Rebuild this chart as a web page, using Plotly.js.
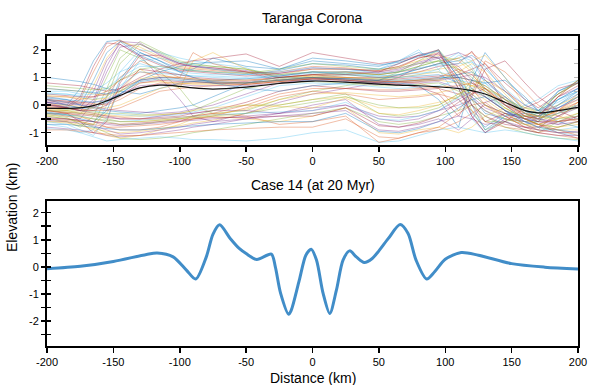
<!DOCTYPE html>
<html><head><meta charset="utf-8">
<script src="https://cdn.plot.ly/plotly-3.0.1.min.js"></script>
<style>html,body{margin:0;padding:0;background:#fff}</style>
</head><body><div id="chart" style="width:589px;height:385px"></div>
<script>
// ---- Top panel: Taranga Corona topographic profiles (km) ----
const distanceGrid = [-200,-185,-175,-165,-155,-145,-130,-115,-100,-90,-75,-50,-25,0,25,50,65,80,95,110,120,130,145,160,170,185,200];

const p01 = [0.2,0.0,0.6,1.6,2.3,2.35,1.9,1.6,1.3,1.25,1.2,1.1,1.25,1.5,1.45,1.3,1.5,1.8,1.95,1.0,0.3,-0.3,-0.5,-0.7,-0.6,0.2,0.5];
const p02 = [0.1,-0.1,0.2,1.2,2.1,2.35,2.0,1.7,1.35,1.3,1.25,1.15,1.2,1.4,1.35,1.2,1.35,1.7,1.9,1.3,0.6,0.0,-0.4,-0.8,-0.9,-0.2,0.4];
const p03 = [-0.1,-0.2,-0.1,0.7,1.7,2.3,2.1,1.75,1.4,1.35,1.3,1.2,1.1,1.3,1.3,1.25,1.4,1.6,1.8,1.6,1.2,0.4,-0.1,-0.5,-0.7,-0.5,0.1];
const p04 = [-0.3,-0.4,-0.5,0.1,1.2,2.1,2.2,1.85,1.5,1.4,1.35,1.25,1.05,1.2,1.2,1.15,1.25,1.5,1.7,1.9,1.7,0.9,0.2,-0.3,-0.5,-0.7,-0.4];
const p05 = [-0.5,-0.6,-0.8,-0.4,0.6,1.7,2.3,1.95,1.6,1.5,1.4,1.3,1.0,1.1,1.15,1.1,1.2,1.4,1.6,0.8,-0.2,-0.9,-0.6,-0.9,-1.0,-0.6,-0.3];
const p06 = [-0.7,-0.8,-1.0,-0.9,0.0,1.2,2.0,1.9,1.7,1.6,1.5,1.35,0.95,1.0,1.1,1.05,1.1,1.3,1.5,1.9,1.4,0.6,-0.2,-0.7,-0.9,-0.9,-0.8];
const p07 = [-0.2,-0.3,-0.6,-1.0,-0.6,0.8,1.8,1.8,1.5,1.4,1.35,1.2,0.9,0.95,1.0,1.0,1.05,1.2,1.4,1.5,1.95,1.2,0.0,-0.5,-0.7,-1.0,-1.2];
const p08 = [0.3,0.2,0.0,0.9,1.9,2.3,1.8,1.5,1.2,1.3,1.7,1.4,1.3,1.6,1.5,1.4,1.6,1.9,1.7,0.6,-0.3,-0.8,-0.3,-0.4,-0.5,0.5,0.8];
const p09 = [0.0,-0.1,-0.2,-0.1,0.3,1.0,1.6,1.3,1.0,1.9,1.5,1.2,1.0,1.1,1.2,1.1,1.2,1.3,1.5,1.7,1.9,1.5,0.6,-0.2,-0.5,-0.2,0.3];
const p10 = [-0.4,-0.5,-0.6,-0.7,-0.3,0.5,1.3,0.9,0.6,1.6,1.9,1.3,1.0,1.05,1.1,1.0,1.1,1.2,1.3,1.4,1.6,1.8,1.0,0.0,-0.3,-0.4,0.0];
const p11 = [0.1,0.0,-0.1,0.5,1.6,2.2,1.8,1.0,0.2,-0.4,-0.6,-0.3,0.1,0.4,0.6,0.8,1.0,1.4,1.9,0.8,-0.4,-1.0,-0.5,-0.6,-0.5,0.3,0.6];
const p12 = [-0.2,-0.2,-0.3,0.0,1.0,2.0,1.7,1.2,0.6,0.0,-0.3,-0.2,0.2,0.5,0.7,0.9,1.2,1.6,2.0,1.2,0.2,-0.6,-0.6,-0.4,-0.3,0.4,0.9];
const p13 = [0.5,0.5,0.4,0.5,0.8,1.2,1.5,1.3,1.1,1.05,1.05,1.0,1.1,1.2,1.15,1.05,1.1,1.15,1.2,1.0,0.6,0.3,0.0,-0.2,-0.3,0.2,0.6];
const p14 = [0.8,0.75,0.7,0.6,0.5,0.6,0.9,1.0,1.0,0.95,0.9,0.85,1.0,1.1,1.0,0.9,0.95,1.0,1.05,1.1,1.3,1.5,0.8,0.2,-0.1,0.4,0.8];
const p15 = [1.0,0.9,0.85,0.75,0.6,0.5,0.4,0.6,0.8,0.85,0.9,0.95,1.05,1.2,1.1,1.0,1.0,1.05,1.1,0.8,0.4,0.0,-0.3,-0.5,-0.6,0.0,0.5];
const p16 = [0.3,0.3,0.2,0.3,0.5,0.9,1.2,1.1,0.95,0.9,0.85,0.8,0.9,1.0,0.95,0.85,0.85,0.9,0.95,1.0,0.9,0.7,0.2,-0.4,-0.5,-0.3,0.1];
const p17 = [0.6,0.55,0.5,0.4,0.35,0.5,0.8,0.85,0.8,0.75,0.75,0.75,0.85,0.95,0.9,0.8,0.8,0.85,0.9,1.2,1.5,1.2,0.4,-0.3,-0.5,-0.2,0.2];
const p18 = [0.2,0.15,0.1,0.1,0.2,0.4,0.7,0.75,0.75,0.7,0.7,0.7,0.8,0.9,0.85,0.75,0.75,0.8,0.85,0.6,0.3,-0.1,-0.4,-0.6,-0.7,-0.4,-0.1];
const p19 = [-0.1,-0.15,-0.2,-0.25,-0.3,-0.3,-0.35,-0.35,-0.3,-0.2,0.1,0.6,0.8,0.85,0.8,0.7,0.7,0.75,0.8,0.5,0.2,-0.2,-0.5,-0.6,-0.6,-0.3,-0.1];
const p20 = [0.0,-0.05,-0.1,-0.2,-0.3,-0.35,-0.4,-0.4,-0.35,-0.25,-0.1,0.3,0.7,0.8,0.75,0.65,0.6,0.65,0.7,0.9,0.8,0.4,-0.2,-0.5,-0.5,-0.1,0.3];
const p21 = [-0.3,-0.3,-0.35,-0.4,-0.45,-0.5,-0.5,-0.45,-0.4,-0.3,-0.2,0.1,0.5,0.7,0.6,0.5,0.5,0.55,0.6,0.4,0.0,-0.4,-0.7,-0.8,-0.8,-0.6,-0.4];
const p22 = [0.2,0.1,0.0,-0.1,-0.2,-0.25,-0.3,-0.2,-0.1,0.0,0.3,0.8,1.0,1.0,0.9,0.8,0.85,0.9,0.95,1.1,1.2,0.9,0.3,-0.2,-0.3,0.0,0.4];
const p23 = [-0.5,-0.55,-0.6,-0.7,-0.8,-0.8,-0.75,-0.7,-0.6,-0.5,-0.4,-0.1,0.3,0.5,0.4,0.2,0.25,0.3,0.4,0.2,-0.2,-0.6,-0.8,-0.9,-1.0,-0.8,-0.6];
const p24 = [-0.6,-0.65,-0.75,-0.85,-0.95,-1.0,-0.95,-0.85,-0.75,-0.65,-0.55,-0.3,0.0,0.2,0.3,-0.1,-0.1,-0.05,0.1,0.3,0.5,0.2,-0.3,-0.7,-0.8,-0.9,-0.9];
const p25 = [-0.8,-0.85,-0.9,-1.0,-1.1,-1.15,-1.1,-1.0,-0.9,-0.8,-0.7,-0.5,-0.3,-0.1,0.0,-0.4,-0.45,-0.4,-0.2,0.0,0.2,-0.2,-0.6,-0.9,-1.0,-1.1,-1.1];
const p26 = [-0.4,-0.5,-0.6,-0.8,-1.0,-1.2,-1.25,-1.2,-1.1,-1.0,-0.9,-0.7,-0.5,-0.3,-0.1,-0.6,-0.7,-0.6,-0.4,-0.2,0.0,-0.4,-0.8,-1.0,-1.1,-1.2,-1.25];
const p27 = [-0.85,-0.9,-1.0,-1.15,-1.3,-1.25,-1.2,-1.15,-1.2,-1.25,-1.25,-1.3,-1.2,-1.0,-0.9,-1.35,-1.3,-1.1,-0.9,-0.8,-0.9,-1.0,-0.9,-1.0,-1.1,-1.2,-1.3];
const p28 = [0.4,0.35,0.3,0.3,0.4,0.6,1.0,1.3,1.5,1.6,1.7,1.85,1.4,1.9,1.7,1.5,1.6,1.8,1.7,1.2,0.8,0.5,0.0,-0.3,-0.4,0.3,0.9];
const p29 = [0.6,0.55,0.5,0.45,0.4,0.5,0.9,1.2,1.4,1.5,1.55,1.6,1.3,1.7,1.6,1.45,1.55,1.75,2.0,1.0,0.0,-0.9,-0.4,-0.3,-0.2,0.5,0.85];
const p30 = [-0.2,-0.3,-0.4,-0.6,-0.8,-0.9,-0.9,-0.8,-0.6,-0.4,-0.3,-0.4,-0.7,-0.6,-0.4,-1.35,-1.2,-1.0,-0.9,-0.6,-0.3,0.0,-0.3,-0.7,-0.9,-1.0,-1.0];
const p31 = [-0.6,-0.6,-0.7,-0.9,-1.1,-1.2,-1.1,-0.9,-0.7,-0.5,-0.4,-0.5,-0.6,-0.4,-0.1,-1.0,-1.05,-0.9,-0.8,-1.0,-0.8,-0.4,-0.1,-0.5,-0.7,-0.8,-0.7];
const p32 = [0.0,-0.1,-0.2,-0.3,-0.4,-0.5,-0.5,-0.4,-0.3,-0.3,-0.2,-0.2,-0.3,0.0,0.2,-0.7,-0.8,-0.7,-0.5,-0.9,-0.5,0.1,0.3,-0.3,-0.5,-0.6,-0.5];
const p33 = [-0.3,-0.35,-0.4,-0.5,-0.6,-0.7,-0.7,-0.6,-0.5,-0.4,-0.2,0.0,0.0,0.2,0.4,-0.3,-0.4,-0.3,-0.1,0.3,0.9,0.7,0.2,-0.2,-0.4,-0.5,-0.4];
const p34 = [0.4,0.4,0.3,0.2,0.3,0.7,1.2,1.15,1.1,1.05,1.0,0.95,1.05,1.15,1.2,1.3,1.6,2.0,1.3,0.2,-0.5,-1.0,-0.4,0.0,0.2,0.7,0.9];
const p35 = [-0.1,-0.1,-0.2,-0.2,0.0,0.6,1.3,1.2,1.1,1.0,0.95,0.9,1.0,1.1,1.1,1.2,1.5,1.8,2.0,0.6,-0.4,-1.0,-0.6,-0.1,0.1,0.6,0.8];
const p36 = [0.1,0.0,-0.1,-0.1,0.1,0.4,0.9,1.0,0.95,0.9,0.85,0.8,0.9,1.0,0.95,0.85,0.8,0.7,0.2,-0.8,0.9,1.9,1.0,0.2,-0.2,-0.6,-0.8];
const p37 = [0.2,0.15,0.1,0.05,0.0,0.2,0.6,0.8,0.8,0.8,0.8,0.8,0.9,1.0,0.95,0.9,0.85,0.8,0.6,-0.2,0.4,1.6,1.2,0.5,0.0,-0.4,-0.6];
const p38 = [0.0,0.0,-0.05,-0.1,-0.1,0.0,0.3,0.6,0.75,0.8,0.8,0.8,0.9,1.0,1.0,0.95,0.9,0.9,0.9,0.8,0.7,0.6,0.3,-0.3,-0.6,0.3,0.9];
const p39 = [-0.45,-0.5,-0.55,-0.6,-0.7,-0.75,-0.7,-0.65,-0.6,-0.55,-0.5,-0.4,-0.3,-0.2,0.0,-0.5,-0.6,-0.5,-0.2,0.2,0.5,0.3,-0.2,-0.5,-0.6,-0.7,-0.6];
const p40 = [-0.2,-0.25,-0.3,-0.35,-0.5,-0.6,-0.6,-0.55,-0.5,-0.45,-0.4,-0.3,-0.1,0.1,0.3,0.0,-0.1,-0.1,0.0,0.4,0.6,0.3,-0.2,-0.4,-0.4,-0.2,0.0];
const p41 = [-0.3,-0.35,-0.4,-0.5,-0.55,-0.6,-0.55,-0.5,-0.45,-0.4,-0.35,-0.3,-0.25,-0.2,0.1,-0.5,-0.55,-0.4,-0.2,0.3,0.6,0.8,0.3,-0.3,-0.5,-0.3,0.0];
const p42 = [-0.5,-0.5,-0.55,-0.6,-0.65,-0.7,-0.65,-0.6,-0.55,-0.5,-0.45,-0.45,-0.4,-0.4,-0.1,-0.75,-0.8,-0.65,-0.4,0.1,0.4,0.6,0.1,-0.4,-0.6,-0.6,-0.5];
const p43 = [-0.7,-0.7,-0.75,-0.8,-0.85,-0.9,-0.9,-0.85,-0.8,-0.75,-0.7,-0.65,-0.6,-0.6,-0.3,-0.95,-1.0,-0.85,-0.6,-0.1,0.2,0.3,-0.2,-0.6,-0.8,-0.9,-1.0];
const p44 = [-0.9,-0.9,-0.95,-1.0,-1.05,-1.1,-1.1,-1.05,-1.0,-0.95,-0.9,-0.85,-0.8,-0.8,-0.5,-1.15,-1.2,-1.0,-0.8,-0.3,0.0,0.1,-0.4,-0.8,-1.0,-1.1,-1.2];
const p45 = [-0.15,-0.2,-0.25,-0.3,-0.35,-0.4,-0.4,-0.35,-0.3,-0.2,-0.1,0.0,-0.05,-0.1,0.25,-0.3,-0.35,-0.2,0.0,0.4,0.7,0.9,0.5,-0.1,-0.3,0.0,0.3];
const p46 = [0.05,-0.1,-0.2,0.2,1.4,2.3,2.25,1.8,1.45,1.4,1.3,1.2,1.15,1.35,1.3,1.2,1.3,1.55,1.75,1.4,0.9,0.3,-0.2,-0.6,-0.8,-0.4,0.0];
const p47 = [-0.35,-0.45,-0.7,-0.7,0.3,1.5,2.2,1.9,1.55,1.45,1.4,1.3,1.1,1.2,1.2,1.1,1.2,1.4,1.6,1.7,1.3,0.5,-0.1,-0.5,-0.7,-0.8,-0.6];
const p48 = [-0.6,-0.7,-0.9,-1.1,-0.5,0.6,1.6,1.7,1.55,1.45,1.3,1.15,0.9,0.9,0.95,0.95,1.0,1.1,1.3,1.8,1.6,0.8,0.0,-0.6,-0.8,-1.0,-1.1];
const p49 = [0.0,-0.05,0.3,1.4,2.25,2.2,1.75,1.45,1.25,1.2,1.15,1.05,1.15,1.3,1.3,1.25,1.4,1.7,1.85,0.9,0.0,-0.6,-0.3,-0.5,-0.4,0.3,0.7];
const p50 = [-0.25,-0.35,-0.5,-0.6,-0.2,0.9,1.9,1.6,1.2,1.0,0.8,0.6,0.5,0.7,0.8,0.9,1.1,1.3,1.5,1.6,1.8,1.4,0.5,-0.2,-0.4,-0.1,0.3];
const p51 = [-0.2,-0.25,-0.3,-0.35,-0.4,-0.45,-0.5,-0.5,-0.45,-0.4,-0.3,0.0,0.4,0.6,0.6,0.55,0.55,0.6,0.65,0.7,0.8,0.6,0.0,-0.4,-0.5,-0.2,0.1];
const p52 = [-0.35,-0.4,-0.45,-0.5,-0.55,-0.6,-0.6,-0.55,-0.5,-0.45,-0.35,-0.15,0.2,0.4,0.45,0.35,0.3,0.35,0.45,0.6,0.4,0.0,-0.5,-0.7,-0.7,-0.5,-0.3];
const p53 = [0.1,0.05,0.0,-0.05,-0.15,-0.2,-0.25,-0.3,-0.25,-0.15,0.0,0.4,0.8,0.95,0.9,0.8,0.8,0.85,0.9,1.0,1.1,1.0,0.5,0.0,-0.2,-0.1,0.2];
const p54 = [0.7,0.65,0.6,0.55,0.6,0.9,1.3,1.4,1.3,1.25,1.2,1.15,1.3,1.5,1.4,1.3,1.35,1.5,1.6,1.3,1.0,0.6,0.2,-0.1,-0.2,0.4,0.8];
const p55 = [0.45,0.4,0.35,0.4,0.6,1.0,1.4,1.4,1.2,1.15,1.1,1.1,1.2,1.35,1.3,1.15,1.2,1.35,1.45,1.5,1.55,1.3,0.6,0.0,-0.2,0.1,0.5];
const p56 = [0.15,0.1,0.05,0.0,0.05,0.3,0.8,0.9,0.85,0.85,0.8,0.75,0.85,0.95,0.9,0.8,0.75,0.65,0.4,-0.4,0.3,1.3,1.6,0.8,0.3,-0.2,-0.5];
const p57 = [0.25,0.2,0.15,0.1,0.15,0.4,0.85,0.95,0.9,0.85,0.8,0.8,0.9,1.0,0.95,0.9,0.9,0.95,1.0,1.0,0.9,0.8,0.9,0.3,-0.2,0.2,0.6];
const p58 = [-0.05,-0.1,-0.15,-0.2,-0.2,-0.1,0.2,0.5,0.6,0.65,0.7,0.75,0.85,0.95,0.9,0.85,0.85,0.9,1.0,1.3,1.1,0.6,0.0,-0.5,-0.7,-0.9,-1.1];
const p59 = [0.35,0.3,0.25,0.2,0.25,0.5,0.95,1.05,1.0,0.95,0.9,0.9,0.95,1.05,1.0,0.95,1.0,1.1,1.2,0.9,0.7,0.5,0.1,-0.3,-0.4,-0.6,-0.5];
const p60 = [-0.55,-0.6,-0.65,-0.75,-0.9,-1.05,-1.0,-0.9,-0.8,-0.7,-0.6,-0.5,-0.4,-0.3,-0.2,-0.9,-0.95,-0.8,-0.6,-0.4,-0.5,-0.7,-0.6,-0.8,-0.9,-1.0,-0.95];

const meanProfile = [-0.12,-0.12,-0.1,-0.02,0.15,0.35,0.62,0.72,0.68,0.62,0.58,0.65,0.78,0.87,0.83,0.76,0.72,0.7,0.66,0.6,0.52,0.4,0.1,-0.2,-0.28,-0.2,-0.08];

// ---- Bottom panel: Case 14 (at 20 Myr) ----
const caseX = [-200,-175,-150,-125,-117,-105,-95,-88,-80,-75,-70,-62,-55,-50,-42,-31,-28,-24,-18,-16,-10,-5,-1,3,8,13,18,23,28,33,39,45,50,57,66,72,78,86,92,100,112,125,150,175,200];
const caseY = [-0.07,0.02,0.2,0.46,0.51,0.37,-0.12,-0.45,0.37,1.2,1.55,1.05,0.67,0.49,0.27,0.47,0.0,-0.98,-1.75,-1.6,-0.5,0.43,0.65,0.25,-0.98,-1.72,-0.86,0.25,0.59,0.37,0.16,0.31,0.59,1.04,1.56,1.23,0.25,-0.45,-0.18,0.28,0.53,0.43,0.12,-0.01,-0.08];

// ---- Tick labels (ASCII hyphen minus, as in the reference) ----
const xTickVals = [-200,-150,-100,-50,0,50,100,150,200];
const xTickText = ['-200','-150','-100','-50','0','50','100','150','200'];
const yTopTickVals = [-1,0,1,2];
const yTopTickText = ['-1','0','1','2'];
const yBotTickVals = [-2,-1,0,1,2];
const yBotTickText = ['-2','-1','0','1','2'];

const profiles = [p01,p02,p03,p04,p05,p06,p07,p08,p09,p10,p11,p12,p13,p14,p15,p16,p17,p18,p19,p20,
                  p21,p22,p23,p24,p25,p26,p27,p28,p29,p30,p31,p32,p33,p34,p35,p36,p37,p38,p39,p40,
                  p41,p42,p43,p44,p45,p46,p47,p48,p49,p50,p51,p52,p53,p54,p55,p56,p57,p58,p59,p60];
const palette = ['#0072BD','#D95319','#EDB120','#7E2F8E','#77AC30','#4DBEEE','#A2142F'];

const traces = [];
profiles.forEach((p, i) => {
  traces.push({x: distanceGrid, y: p, type: 'scatter', mode: 'lines', xaxis: 'x', yaxis: 'y',
    line: {color: palette[i % palette.length], width: 0.75}, opacity: 0.5, hoverinfo: 'skip', showlegend: false});
});
traces.push({x: distanceGrid, y: meanProfile, type: 'scatter', mode: 'lines', xaxis: 'x', yaxis: 'y',
  line: {color: '#111', width: 1.2, shape: 'spline', smoothing: 1}, showlegend: false});
traces.push({x: caseX, y: caseY, type: 'scatter', mode: 'lines', xaxis: 'x2', yaxis: 'y2',
  line: {color: '#418dc8', width: 3, shape: 'spline', smoothing: 0.8}, showlegend: false});
traces.push({x: [], y: [], xaxis: 'x', yaxis: 'y3', showlegend: false});
traces.push({x: [], y: [], xaxis: 'x2', yaxis: 'y4', showlegend: false});
traces.push({x: [], y: [], xaxis: 'x', yaxis: 'y5', showlegend: false});

const F = 'Liberation Sans, Arial, Helvetica, sans-serif';
const topRange = [-1.45, 2.5];
const botRange = [-2.92, 2.43];
const xCommon = {range: [-200, 200], tickmode: 'array', tickvals: xTickVals, ticktext: xTickText,
  ticks: 'outside', ticklen: 5, tickwidth: 1.5,
  tickcolor: '#000', showline: true, linewidth: 2, linecolor: '#000', mirror: true, showgrid: false,
  zeroline: false, tickfont: {family: F, size: 11, color: '#000'}};
const yCommon = {tickmode: 'array', ticks: 'outside', ticklen: 4, tickwidth: 1.5, tickcolor: '#000',
  showline: true, linewidth: 2, linecolor: '#000', mirror: true, showgrid: false, zeroline: false,
  tickfont: {family: F, size: 11, color: '#000'}};
const minorStyle = {tickmode: 'array', ticks: 'outside', ticklen: 4, tickwidth: 1.5, tickcolor: '#000', showgrid: false};
const yInner = {showline: false, showgrid: false, zeroline: false, showticklabels: false,
  ticks: 'inside', ticklen: 4, tickwidth: 1.5, tickcolor: '#000', dtick: 0.5, tick0: 0, side: 'left'};

const layout = {
  width: 589, height: 385,
  paper_bgcolor: '#fff', plot_bgcolor: '#fff',
  margin: {l: 47, r: 11, t: 36, b: 39},
  showlegend: false,
  xaxis: Object.assign({}, xCommon, {anchor: 'y', domain: [0, 1]}),
  yaxis: Object.assign({}, yCommon, {anchor: 'x', domain: [0.648, 1], range: topRange,
    tickvals: yTopTickVals, ticktext: yTopTickText,
    minor: Object.assign({}, minorStyle, {tickvals: [-0.5, 0.5, 1.5]})}),
  xaxis2: Object.assign({}, xCommon, {anchor: 'y2', domain: [0, 1]}),
  yaxis2: Object.assign({}, yCommon, {anchor: 'x2', domain: [0, 0.4677], range: botRange,
    tickvals: yBotTickVals, ticktext: yBotTickText,
    minor: Object.assign({}, minorStyle, {tickvals: [-2.5, -1.5, -0.5, 0.5, 1.5]})}),
  yaxis3: Object.assign({}, yInner, {overlaying: 'y', anchor: 'x', range: topRange}),
  yaxis4: Object.assign({}, yInner, {overlaying: 'y2', anchor: 'x2', range: botRange}),
  yaxis5: Object.assign({}, yInner, {overlaying: 'y', anchor: 'x', side: 'right', range: topRange, tickcolor: '#bbb', tickwidth: 1}),
  annotations: [
    {text: 'Taranga Corona', xref: 'paper', yref: 'paper', x: 0.5, y: 1.058, showarrow: false,
     xanchor: 'center', yanchor: 'middle', font: {family: F, size: 14, color: '#000'}},
    {text: 'Case 14 (at 20 Myr)', xref: 'paper', yref: 'paper', x: 0.5, y: 0.519, showarrow: false,
     xanchor: 'center', yanchor: 'middle', font: {family: F, size: 14, color: '#000'}},
    {text: 'Distance (km)', xref: 'paper', yref: 'paper', x: 0.5, y: -0.103, showarrow: false,
     xanchor: 'center', yanchor: 'middle', font: {family: F, size: 14, color: '#000'}},
    {text: 'Elevation (km)', xref: 'paper', yref: 'paper', x: -0.066, y: 0.448, showarrow: false,
     textangle: -90, xanchor: 'center', yanchor: 'middle', font: {family: F, size: 14, color: '#000'}}
  ]
};

Plotly.newPlot('chart', traces, layout, {displayModeBar: false, staticPlot: true});
</script>
</body></html>
